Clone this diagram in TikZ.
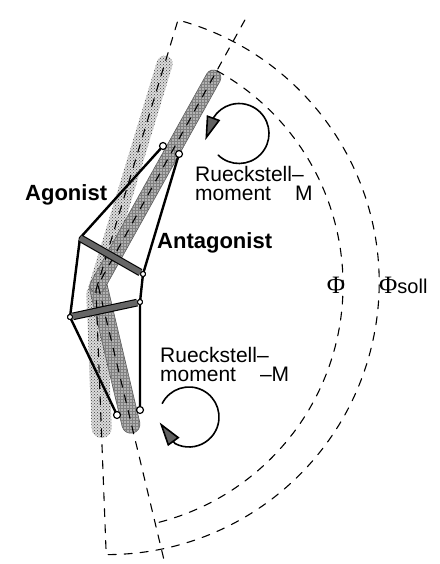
\documentclass[tikz,border=0pt]{standalone}
\usepackage{fontspec}
\setmainfont{Liberation Sans}
\newfontfamily\greekfont{Liberation Serif}
\usetikzlibrary{arrows.meta,calc,patterns}

% bar with round ends from #2 to #3, half width #4
\newcommand\limb[4]{%
  \coordinate (l1) at ($(#2)!#4!90:(#3)$);
  \coordinate (l2) at ($(#3)!#4!-90:(#2)$);
  \coordinate (r2) at ($(#3)!#4!90:(#2)$);
  \coordinate (r1) at ($(#2)!#4!-90:(#3)$);
  \path[#1,rounded corners=#4] ($(l1)!.5!(l2)$) -- (l2) -- (r2) -- (r1) -- (l1) -- cycle;}

\tikzset{
  axis/.style={dash pattern=on 8pt off 8pt,line width=1.1pt},
  sollbar/.style={fill=black!14,postaction={pattern=crosshatch dots,pattern color=black!75}},
  istbar/.style={fill=black!30,draw=black!65,line width=.7pt,
    postaction={pattern=grid,pattern color=black!50}},
  plate/.style={line width=1.1pt,double=black!60,double distance=5.5pt,line cap=butt},
  muscle/.style={line width=2.4pt},
  pin/.style={circle,draw,fill=white,line width=1.2pt,inner sep=0pt,minimum size=7pt},
  smallpin/.style={pin,minimum size=5pt,line width=1pt},
  moment/.style={line width=1.6pt,-{Triangle[length=24pt,width=14pt,fill=black!62]}},
  musclename/.style={font=\fontsize{22}{22}\selectfont\bfseries,inner sep=0pt},
  torque/.style={font=\fontsize{21}{19}\selectfont,align=left,inner sep=0pt},
  anglename/.style={font=\fontsize{25}{25}\selectfont\greekfont,inner sep=0pt}
}

\begin{document}
\begin{tikzpicture}[x=1pt,y=1pt,>=Stealth,line cap=round,line join=round]
  \useasboundingbox (0,0) rectangle (439,-564);

  % joints of the target and the actual position
  \coordinate (soll) at (96,-290);
  \coordinate (ist) at (98,-285);

  % limbs, target position
  \coordinate (sa) at (94,-296);
  \coordinate (sb) at (167,-56);
  \coordinate (sc) at (96,-284);
  \coordinate (sd) at (102,-438);
  \limb{sollbar}{sa}{sb}{8pt}
  \limb{sollbar}{sc}{sd}{10pt}

  % limbs, actual position
  \coordinate (ia) at (94,-292);
  \coordinate (ib) at (217,-71);
  \coordinate (ic) at (96.5,-279);
  \coordinate (id) at (133,-433);
  \limb{istbar}{ic}{id}{9pt}
  \limb{istbar}{ia}{ib}{7.5pt}

  % limb axes and angle arcs
  \coordinate (sollTop) at (178,-20);
  \draw[axis] (soll) -- (sollTop) arc[start angle=74.9,end angle=-90.2,radius=272] -- (soll);
  \coordinate (istEnd) at ($(ist)+(61:303)$);
  \coordinate (istTop) at ($(ist)+(61:245)$);
  \coordinate (istFoot) at ($(ist)+(-76.5:300)$);
  \draw[axis] (istEnd) -- (ist) -- (istFoot);
  \draw[axis] (istTop) arc[start angle=61,end angle=-76.5,radius=245];

  % muscle model
  \coordinate (a1) at (80,-238);
  \node[smallpin] (b1) at (143,-274) {};
  \node[smallpin] (a2) at (70,-317) {};
  \node[smallpin] (b2) at (140,-302) {};
  \node[pin] (p1) at (163,-146) {};
  \node[pin] (p2) at (179,-154) {};
  \node[pin] (p3) at (117,-415) {};
  \node[pin] (p4) at (140,-410) {};
  \draw[muscle] (p1) -- (a1) -- (a2) -- (p3);
  \draw[muscle] (p2) -- (b1) -- (b2) -- (p4);
  \draw[plate] (a1) -- (b1);
  \draw[plate] (a2) -- (b2);
  \node[smallpin] at (b1) {};
  \node[smallpin] at (a2) {};
  \node[smallpin] at (b2) {};

  % restoring moments
  \coordinate (mUp) at (239,-133.5);
  \draw[moment] ($(mUp)+(226:30)$) arc[start angle=226,end angle=508,radius=30] -- ++(250:24);
  \coordinate (mDn) at (189,-417);
  \draw[moment] ($(mDn)+(153:30)$) arc[start angle=153,end angle=-118,radius=30] -- ++(126:26);

  % labels
  \node[musclename,anchor=base west] (agonist) at (25,-200) {Agonist};
  \node[musclename,anchor=base west] (antagonist) at (157,-248) {Antagonist};
  \node[torque,anchor=north west] (mplus) at (195,-166) {Rueckstell–\\moment\hspace{24pt}M};
  \node[torque,anchor=north west] (mminus) at (160,-347) {Rueckstell–\\moment\hspace{24pt}–M};
  \node[anglename,anchor=base] (phi) at (336,-293) {Φ};
  \node[anglename,anchor=base west] (phisoll) at (379,-293) {Φ\fontsize{20}{20}\selectfont\sffamily\normalfont soll};
\end{tikzpicture}
\end{document}
